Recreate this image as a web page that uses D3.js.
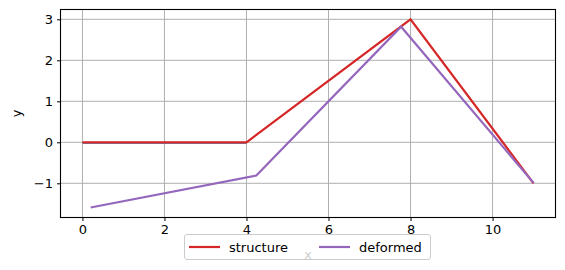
<!DOCTYPE html>
<html><head><meta charset="utf-8">
<script src="https://cdn.jsdelivr.net/npm/d3@7"></script>
<style>body{margin:0;background:#fff}svg{display:block;font-family:"DejaVu Sans",sans-serif}</style>
</head><body>
<svg id="c" width="565" height="270"></svg>
<script>
const supportX = [0, 4];
const supportY = [0, 0];
const structureX = [0, 4, 8, 11];
const structureY = [0, 0, 3, -1];
const deformedX = [0.2, 4.24, 7.77, 11];
const deformedY = [-1.59, -0.81, 2.82, -0.99];
const xTicks = [0, 2, 4, 6, 8, 10];
const yTicks = [-1, 0, 1, 2, 3];
const seriesNames = ["structure", "deformed"];

const W = 565, H = 270;
const L = 60.5, R = 555.5, T = 9.5, B = 217.5;
const svg = d3.select("#c");
const x = d3.scaleLinear().domain([-0.535, 11.535]).range([L, R]);
const y = d3.scaleLinear().domain([-1.834, 3.239]).range([B, T]);

// grid
const g = svg.append("g");
g.selectAll(".gx").data(xTicks).join("line")
  .attr("x1", d => x(d)).attr("x2", d => x(d)).attr("y1", T).attr("y2", B)
  .attr("stroke", "#b0b0b0").attr("stroke-width", 1);
g.selectAll(".gy").data(yTicks).join("line")
  .attr("y1", d => y(d)).attr("y2", d => y(d)).attr("x1", L).attr("x2", R)
  .attr("stroke", "#b0b0b0").attr("stroke-width", 1);

const line = d3.line().x(d => x(d[0])).y(d => y(d[1]));
const zip = (a, b) => a.map((v, i) => [v, b[i]]);

svg.append("path").datum(zip(supportX, supportY)).attr("d", line)
  .attr("fill", "none").attr("stroke", "#1f77b4").attr("stroke-width", 1.5)
  .attr("transform", "translate(0,0.8)");
svg.append("path").datum(zip(structureX, structureY)).attr("d", line)
  .attr("fill", "none").attr("stroke", "#d62728").attr("stroke-width", 2.2);
svg.append("path").datum(zip(deformedX, deformedY)).attr("d", line)
  .attr("fill", "none").attr("stroke", "#9467bd").attr("stroke-width", 2.2);

// axes
const xa = svg.append("g").attr("transform", `translate(0,${B})`)
  .call(d3.axisBottom(x).tickValues(xTicks).tickSize(3.5).tickPadding(4).tickFormat(d3.format("d")));
const ya = svg.append("g").attr("transform", `translate(${L},0)`)
  .call(d3.axisLeft(y).tickValues(yTicks).tickSize(3.5).tickPadding(4).tickFormat(d => d < 0 ? "\u2212" + Math.abs(d) : d));
[xa, ya].forEach(a => {
  a.select(".domain").remove();
  a.selectAll("text").attr("font-size", 13).attr("fill", "#000").attr("font-family", "DejaVu Sans");
  a.selectAll("line").attr("stroke", "#000").attr("stroke-width", 1);
});
svg.append("rect").attr("x", L).attr("y", T).attr("width", R - L).attr("height", B - T)
  .attr("fill", "none").attr("stroke", "#000").attr("stroke-width", 1.1);

svg.append("text").attr("x", (L + R) / 2).attr("y", 259).attr("text-anchor", "middle")
  .attr("font-size", 13).text("x");
svg.append("text").attr("transform", `translate(21,${(T + B) / 2}) rotate(-90)`)
  .attr("text-anchor", "middle").attr("font-size", 13).text("y");

// legend
const lg = svg.append("g");
lg.append("rect").attr("x", 184.5).attr("y", 234.5).attr("width", 246).attr("height", 25).attr("rx", 2.5)
  .attr("fill", "#fff").attr("fill-opacity", 0.8).attr("stroke", "#cccccc").attr("stroke-width", 1);
const colors = ["#d62728", "#9467bd"];
const offs = [189, 319];
seriesNames.forEach((n, i) => {
  lg.append("line").attr("x1", offs[i]).attr("x2", offs[i] + 31).attr("y1", 247).attr("y2", 247)
    .attr("stroke", colors[i]).attr("stroke-width", 2.2);
  lg.append("text").attr("x", offs[i] + 40).attr("y", 251.5).attr("font-size", 13).text(n);
});
</script>
</body></html>
